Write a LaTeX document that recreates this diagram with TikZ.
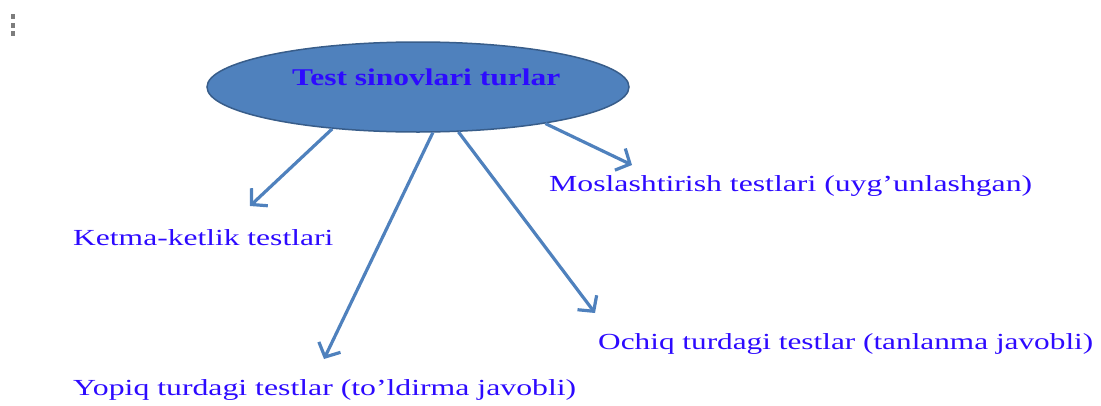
\documentclass[tikz,border=0pt]{standalone}
\usepackage{fontspec}
\setmainfont{Liberation Serif}
\usepackage{graphicx}
\usetikzlibrary{shapes.geometric,arrows.meta}
\definecolor{nodeblue}{RGB}{79,129,189}
\definecolor{edgeblue}{RGB}{56,93,138}
\definecolor{lineblue}{RGB}{79,129,189}
\definecolor{textblue}{RGB}{45,10,255}
\definecolor{dotgray}{RGB}{125,125,125}
\newcommand{\fitlbl}[2]{\resizebox{#1pt}{\height}{\fontsize{23}{25}\selectfont #2}}
\newcommand{\fittitle}[2]{\resizebox{#1pt}{\height}{\fontsize{24}{26}\selectfont\bfseries #2}}
\tikzset{
  rootnode/.style={ellipse, draw=edgeblue, line width=1.5pt, fill=nodeblue,
    minimum width=422pt, minimum height=90pt, inner sep=0pt},
  lbl/.style={anchor=base west, inner sep=0pt, text=textblue},
  ttl/.style={anchor=base west, inner sep=0pt, text=textblue},
  conn/.style={draw=lineblue, line width=3.2pt,
    -{Straight Barb[length=11pt,width=24pt,line width=3.2pt]}},
  dot/.style={fill=dotgray, draw=none}
}
\begin{document}
\begin{tikzpicture}[x=1pt,y=-1pt]
\useasboundingbox (0,0) rectangle (1101,405);
% menu dots
\fill[dot] (11,14) rectangle (15,19);
\fill[dot] (11,22.5) rectangle (15,27.5);
\fill[dot] (11,31) rectangle (15,36);
% central ellipse
\node[rootnode] (root) at (418,87) {};
\node[ttl] (title) at (292,85) {\fittitle{268}{Test sinovlari turlar}};
% labels
\node[lbl] (mos) at (549,191) {\fitlbl{483}{Moslashtirish testlari (uyg’unlashgan)}};
\node[lbl] (ket) at (73,245) {\fitlbl{260}{Ketma-ketlik testlari}};
\node[lbl] (och) at (598,349) {\fitlbl{495}{Ochiq turdagi testlar (tanlanma javobli)}};
\node[lbl] (yop) at (73,395) {\fitlbl{503}{Yopiq turdagi testlar (to’ldirma javobli)}};
% arrow tips
\coordinate (e1) at (250,206);
\coordinate (e2) at (324,359);
\coordinate (e3) at (595,313);
\coordinate (e4) at (632,165);
\draw[conn] (root.206) -- (e1);
\draw[conn] (root.288) -- (e2);
\draw[conn] (root.312) -- (e3);
\draw[conn] (root.344) -- (e4);
\end{tikzpicture}
\end{document}
